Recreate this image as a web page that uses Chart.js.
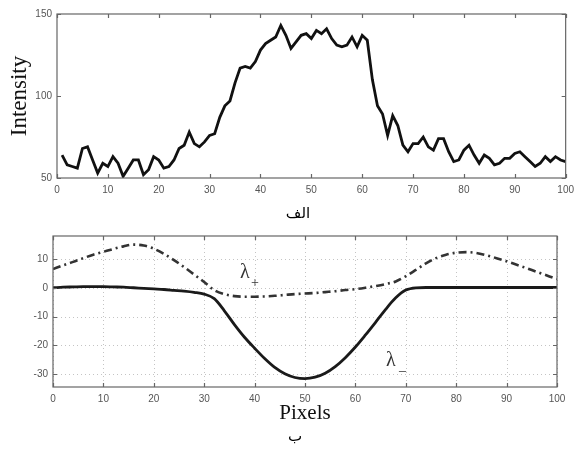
<!DOCTYPE html>
<html lang="fa">
<head>
<meta charset="UTF-8">
<title>Intensity / Pixels</title>
<script src="https://cdn.jsdelivr.net/npm/chart.js"></script>
<style>
  body { margin: 0; width: 580px; height: 449px; background: #fff; position: relative; overflow: hidden; }
  canvas { position: absolute; left: 0; }
  #chartTop { top: 0; }
  #chartBottom { top: 220px; }
  .caption { position: absolute; font-family: "DejaVu Sans", sans-serif; font-size: 15px; line-height: 20px; color: #000; text-align: center; width: 60px; }
  .lam { position: absolute; font-family: "Liberation Serif", serif; color: #333; line-height: 1; }
</style>
</head>
<body>
<canvas id="chartTop" width="580" height="200"></canvas>
<canvas id="chartBottom" width="580" height="229"></canvas>

<div class="caption" style="left:268px; top:203px;">الف</div>
<div class="caption" style="left:265px; top:426px;">ب</div>

<span class="lam" style="left:240px; top:261px; font-size:20px;">λ</span>
<span class="lam" style="left:251px; top:276px; font-size:14px;">+</span>
<span class="lam" style="left:386px; top:349px; font-size:20px;">λ</span>
<span class="lam" style="left:399px; top:359px; font-size:14px;">_</span>

<script>
// --- donnees ---
// profil d'intensite, pixels 1..100
const pixels = [1,2,3,4,5,6,7,8,9,10,11,12,13,14,15,16,17,18,19,20,
  21,22,23,24,25,26,27,28,29,30,31,32,33,34,35,36,37,38,39,40,
  41,42,43,44,45,46,47,48,49,50,51,52,53,54,55,56,57,58,59,60,
  61,62,63,64,65,66,67,68,69,70,71,72,73,74,75,76,77,78,79,80,
  81,82,83,84,85,86,87,88,89,90,91,92,93,94,95,96,97,98,99,100];
const intensity = [64,58,57,56,68,69,61,53,59,57,
  63,59,51,56,61,61,52,55,63,61,
  56,57,61,68,70,78,71,69,72,76,
  77,87,94,97,108,117,118,117,121,128,
  132,134,136,143,137,129,133,137,138,135,
  140,138,141,135,131,130,131,136,130,137,
  134,110,94,89,76,88,82,70,66,71,
  71,75,69,67,74,74,66,60,61,67,
  70,64,59,64,62,58,59,62,62,65,
  66,63,60,57,59,63,60,63,61,60];

// valeurs propres lambda+ / lambda-
const lamX = [0,2,4,6,8,10,12,14,16,18,20,22,24,26,28,30,32,34,36,38,40,
  42,44,46,48,50,52,54,56,58,60,62,64,66,68,70,72,74,76,78,80,
  82,84,86,88,90,92,94,96,98,100];
const lamPlus = [6.5,7.8,9,10.3,11.5,12.5,13.5,14.4,15,14.7,13.6,11.8,9.6,7.2,4.6,2,-0.8,-2.2,-2.9,-3.1,-3.1,
  -3,-2.8,-2.5,-2.2,-2,-1.8,-1.5,-1.2,-0.8,-0.5,0,0.6,1.3,2.2,4,6.2,8.5,10.3,11.5,12.2,
  12.4,12.1,11.3,10.3,9.2,8,6.8,5.5,4.3,3];
const lamMinus = [0,0.2,0.3,0.4,0.4,0.4,0.3,0.2,0,-0.2,-0.4,-0.6,-0.9,-1.2,-1.6,-2.2,-3.8,-8,-12.8,-17.2,-21,
  -24.6,-27.7,-29.9,-31.2,-31.6,-31.1,-29.7,-27.4,-24.3,-20.6,-16.4,-12,-7.5,-3.5,-0.8,0,0.1,0.1,0.1,0.1,
  0.1,0.1,0.1,0.1,0.1,0.1,0.1,0.1,0.1,0.1];

// graduations
const xTicks = [0,10,20,30,40,50,60,70,80,90,100];
const yTicksTop = [50,100,150];
const yTicksBottom = [-30,-20,-10,0,10];

const tickFont = { family: 'Liberation Sans', size: 10 };
const tickColor = '#555';

// cadre + petites graduations vers l'interieur (style matlab)
const frameTicks = {
  id: 'frameTicks',
  beforeDatasetsDraw(chart, args, opts) {
    if (!opts.grid) return;
    const { ctx, chartArea: a, scales: { x, y } } = chart;
    ctx.save();
    ctx.strokeStyle = '#c4c4c4';
    ctx.lineWidth = 1;
    ctx.setLineDash([1, 3]);
    ctx.beginPath();
    x.ticks.forEach(t => {
      const px = Math.round(x.getPixelForValue(t.value)) + 0.5;
      ctx.moveTo(px, a.top); ctx.lineTo(px, a.bottom);
    });
    y.ticks.forEach(t => {
      const py = Math.round(y.getPixelForValue(t.value)) + 0.5;
      ctx.moveTo(a.left, py); ctx.lineTo(a.right, py);
    });
    ctx.stroke();
    ctx.restore();
  },
  afterDraw(chart) {
    const { ctx, chartArea: a, scales: { x, y } } = chart;
    ctx.save();
    ctx.strokeStyle = '#666';
    ctx.lineWidth = 1.2;
    ctx.strokeRect(a.left, a.top, a.right - a.left, a.bottom - a.top);
    ctx.beginPath();
    x.ticks.forEach(t => {
      const px = Math.round(x.getPixelForValue(t.value)) + 0.5;
      ctx.moveTo(px, a.bottom); ctx.lineTo(px, a.bottom - 4);
      ctx.moveTo(px, a.top); ctx.lineTo(px, a.top + 4);
    });
    y.ticks.forEach(t => {
      const py = Math.round(y.getPixelForValue(t.value)) + 0.5;
      ctx.moveTo(a.left, py); ctx.lineTo(a.left + 4, py);
      ctx.moveTo(a.right, py); ctx.lineTo(a.right - 4, py);
    });
    ctx.stroke();
    ctx.restore();
  }
};

function axisBase(ticks) {
  return {
    type: 'linear',
    afterBuildTicks: s => { s.ticks = ticks.map(v => ({ value: v })); },
    grid: { display: false, drawTicks: false },
    border: { display: false },
    ticks: { font: tickFont, color: tickColor, maxRotation: 0, autoSkip: false }
  };
}

// graphique du haut : intensite
const xTop = axisBase(xTicks);
xTop.min = 0; xTop.max = 100;
xTop.ticks.padding = 6;
xTop.afterFit = s => { s.height = 22; };

const yTop = axisBase(yTicksTop);
yTop.min = 50; yTop.max = 150;
yTop.ticks.padding = 5;
yTop.afterFit = s => { s.width = 57; };
yTop.title = { display: true, text: 'Intensity', color: '#111',
  font: { family: 'Liberation Serif', size: 23 }, padding: { top: 6, bottom: 0 } };

new Chart(document.getElementById('chartTop'), {
  type: 'line',
  data: {
    datasets: [{
      data: pixels.map((p, i) => ({ x: p, y: intensity[i] })),
      borderColor: '#111',
      borderWidth: 2.8,
      pointRadius: 0,
      tension: 0
    }]
  },
  options: {
    responsive: false,
    animation: false,
    devicePixelRatio: 1,
    layout: { padding: { top: 14, right: 8, left: 0, bottom: 0 } },
    plugins: { legend: { display: false }, tooltip: { enabled: false }, frameTicks: { grid: false } },
    scales: { x: xTop, y: yTop }
  },
  plugins: [frameTicks]
});

// graphique du bas : lambda
const xBot = axisBase(xTicks);
xBot.min = 0; xBot.max = 100;
xBot.ticks.padding = 6;
xBot.afterFit = s => { s.height = 62; };
xBot.title = { display: true, text: 'Pixels', color: '#111',
  font: { family: 'Liberation Serif', size: 21 }, padding: { top: 0, bottom: 23 } };

const yBot = axisBase(yTicksBottom);
yBot.min = -34.5; yBot.max = 18;
yBot.ticks.padding = 5;
yBot.afterFit = s => { s.width = 53; };

new Chart(document.getElementById('chartBottom'), {
  type: 'line',
  data: {
    datasets: [
      {
        label: 'λ+',
        data: lamX.map((p, i) => ({ x: p, y: lamPlus[i] })),
        borderColor: '#333',
        borderWidth: 2.6,
        borderDash: [8, 4, 2, 4],
        pointRadius: 0,
        cubicInterpolationMode: 'monotone'
      },
      {
        label: 'λ-',
        data: lamX.map((p, i) => ({ x: p, y: lamMinus[i] })),
        borderColor: '#1a1a1a',
        borderWidth: 2.8,
        pointRadius: 0,
        cubicInterpolationMode: 'monotone'
      }
    ]
  },
  options: {
    responsive: false,
    animation: false,
    devicePixelRatio: 1,
    layout: { padding: { top: 16, right: 23, left: 0, bottom: 0 } },
    plugins: { legend: { display: false }, tooltip: { enabled: false }, frameTicks: { grid: true } },
    scales: { x: xBot, y: yBot }
  },
  plugins: [frameTicks]
});
</script>
</body>
</html>
